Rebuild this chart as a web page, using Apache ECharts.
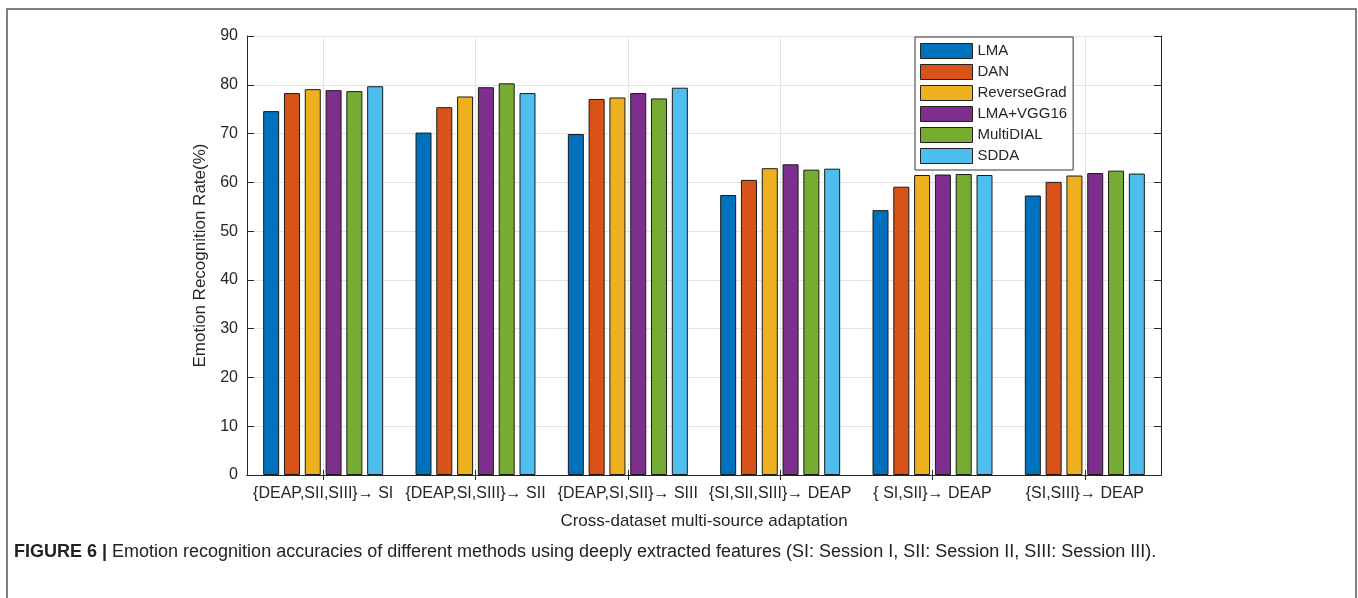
<!DOCTYPE html>
<html>
<head>
<meta charset="utf-8">
<script src="https://cdn.jsdelivr.net/npm/echarts@6/dist/echarts.min.js"></script>
<style>
  html, body { margin: 0; padding: 0; background: #fff; }
  #chart { width: 1358px; height: 598px; }
</style>
</head>
<body>
<div id="chart"></div>
<script>
// Cross-dataset adaptation tasks (x categories)
const categories = [
  '{DEAP,SII,SIII}\u2192 SI',
  '{DEAP,SI,SIII}\u2192 SII',
  '{DEAP,SI,SII}\u2192 SIII',
  '{SI,SII,SIII}\u2192 DEAP',
  '{ SI,SII}\u2192 DEAP',
  '{SI,SIII}\u2192 DEAP'
];

// Accuracy (%) per method
const methods = ['LMA', 'DAN', 'ReverseGrad', 'LMA+VGG16', 'MultiDIAL', 'SDDA'];
const lma       = [74.6, 70.2, 69.9, 57.4, 54.3, 57.3];
const dan       = [78.3, 75.4, 77.1, 60.5, 59.1, 60.1];
const reverse   = [79.1, 77.6, 77.4, 62.9, 61.5, 61.4];
const lmaVgg    = [78.9, 79.5, 78.3, 63.7, 61.6, 61.9];
const multiDial = [78.7, 80.3, 77.2, 62.6, 61.7, 62.4];
const sdda      = [79.7, 78.3, 79.4, 62.8, 61.5, 61.8];

const yTicks = [0, 10, 20, 30, 40, 50, 60, 70, 80, 90];

const colors = ['#0072BD', '#D95319', '#EDB120', '#7E2F8E', '#77AC30', '#4DBEEE'];
const seriesData = [lma, dan, reverse, lmaVgg, multiDial, sdda];

const chart = echarts.init(document.getElementById('chart'));
const txt = '#262626';
const axisCol = '#262626';
const font = 'Liberation Sans, Arial, sans-serif';

chart.setOption({
  animation: false,
  color: colors,
  textStyle: { fontFamily: font },
  grid: { left: 247, top: 36, width: 914, height: 439, show: false },
  legend: {
    data: methods,
    orient: 'vertical',
    left: 915, top: 37,
    width: 158,
    padding: [6, 6, 6, 5],
    itemWidth: 52, itemHeight: 15,
    itemGap: 5,
    backgroundColor: '#fff',
    borderColor: '#333', borderWidth: 1,
    icon: 'rect',
    textStyle: { fontSize: 15, color: txt, fontFamily: font, padding: [0, 0, 0, 0] },
    itemStyle: { borderColor: '#222', borderWidth: 1 }
  },
  xAxis: [{
    type: 'category',
    data: categories,
    name: 'Cross-dataset multi-source adaptation',
    nameLocation: 'middle',
    nameGap: 38,
    nameTextStyle: { fontSize: 17, color: txt },
    axisLine: { lineStyle: { color: axisCol, width: 1 } },
    axisTick: { show: true, inside: true, alignWithLabel: true, length: 5, lineStyle: { color: axisCol } },
    axisLabel: { fontSize: 16, color: txt, margin: 11, interval: 0 },
    splitLine: { show: true, alignWithLabel: true, lineStyle: { color: '#e3e3e3', width: 1 } }
  }, {
    type: 'category',
    data: categories,
    position: 'top',
    axisLine: { lineStyle: { color: axisCol, width: 1 } },
    axisTick: { show: true, inside: true, alignWithLabel: true, length: 5, lineStyle: { color: axisCol } },
    axisLabel: { show: false },
    splitLine: { show: false }
  }],
  yAxis: [{
    type: 'value',
    min: 0, max: 90, interval: 10,
    name: 'Emotion Recognition Rate(%)',
    nameLocation: 'middle',
    nameGap: 29,
    nameTextStyle: { fontSize: 17, color: txt },
    axisLine: { show: true, lineStyle: { color: axisCol, width: 1 } },
    axisTick: { show: true, inside: true, length: 7, lineStyle: { color: axisCol } },
    axisLabel: {
      fontSize: 16, color: txt, margin: 9,
      formatter: v => (yTicks.indexOf(v) >= 0 ? String(v) : '')
    },
    splitLine: { show: true, lineStyle: { color: '#e3e3e3', width: 1 } }
  }, {
    type: 'value',
    min: 0, max: 90, interval: 10,
    position: 'right',
    axisLine: { show: true, lineStyle: { color: axisCol, width: 1 } },
    axisTick: { show: true, inside: true, length: 7, lineStyle: { color: axisCol } },
    axisLabel: { show: false },
    splitLine: { show: false }
  }],
  series: methods.map((m, i) => ({
    name: m,
    type: 'bar',
    data: seriesData[i],
    barWidth: 16,
    barGap: '30%',
    itemStyle: { color: colors[i], borderColor: '#1a1a1a', borderWidth: 1 }
  })),
  graphic: [{
    type: 'rect',
    shape: { x: 7, y: 9, width: 1349, height: 620 },
    style: { fill: 'none', stroke: '#555', lineWidth: 1.5 },
    silent: true
  }, {
    type: 'text',
    left: 14, top: 543,
    style: {
      text: '{b|FIGURE 6 |} Emotion recognition accuracies of different methods using deeply extracted features (SI: Session I, SII: Session II, SIII: Session III).',
      font: '18px ' + font,
      fill: '#222',
      rich: {
        b: { fontWeight: 'bold', fontSize: 18, fill: '#222', fontFamily: font }
      }
    }
  }]
});
</script>
</body>
</html>
